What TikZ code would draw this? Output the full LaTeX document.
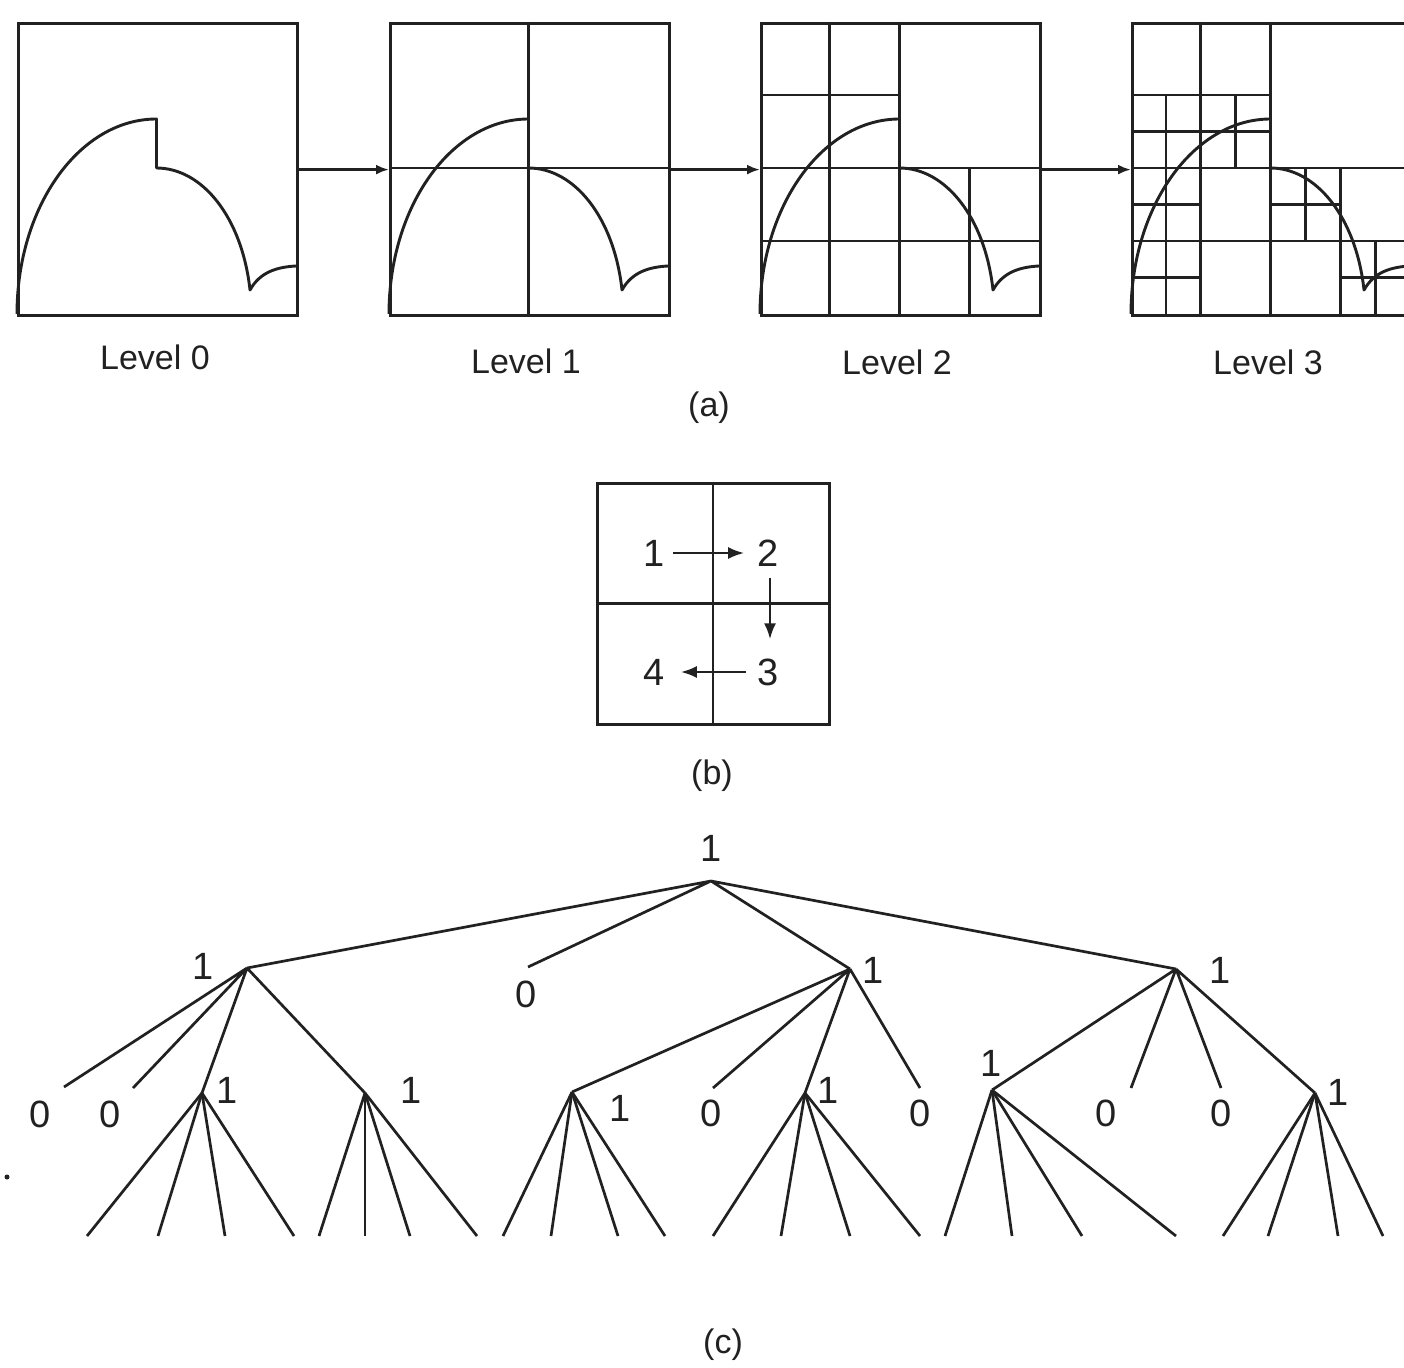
\documentclass[tikz,border=0pt]{standalone}
\usepackage{fontspec}
\setmainfont{Liberation Sans}
\usetikzlibrary{arrows.meta}

% quadrant outline of the region, in box-relative coordinates (279 x 292)
\newcommand{\regionoutline}{%
  \draw[outl] (0,292) .. controls (0,184.3) and (62.5,97) .. (139.5,97)
     -- (139.5,146) .. controls (185,146) and (225,195) .. (233,268)
     .. controls (243,250) and (260,245) .. (279,244);}

\begin{document}
\begin{tikzpicture}[x=1pt,y=-1pt,
  ink/.style={draw=black!87},
  frame/.style={ink, line width=3.2pt, minimum width=279pt, minimum height=292pt,
                inner sep=0pt, anchor=north west},
  cell/.style={ink, line width=2.8pt},
  outl/.style={ink, line width=2.9pt, line join=round},
  flow/.style={ink, line width=2.7pt, -{Latex[length=13pt,width=10pt]}},
  order/.style={ink, line width=2.6pt, -{Latex[length=16pt,width=12pt]}},
  edge/.style={ink, line width=2.7pt},
  caption/.style={inner sep=0pt, text=black!87, font=\fontsize{34}{40}\selectfont},
  digit/.style={inner sep=0pt, text=black!87, font=\fontsize{38}{44}\selectfont},
]
\useasboundingbox (0,0) rectangle (1404,1367);
\fill[white] (0,0) rectangle (1404,1367);
\clip (0,0) rectangle (1404,1367);

% ---------------- (a) quadtree subdivision levels ----------------
\node[frame] (lv0) at (17,22) {};
\node[frame] (lv1) at (389,22) {};
\node[frame] (lv2) at (760,22) {};
\node[frame] (lv3) at (1131,22) {};

\draw[flow] (lv0.east) -- (lv1.west);
\draw[flow] (lv1.east) -- (lv2.west);
\draw[flow] (lv2.east) -- (lv3.west);

% level 0
\begin{scope}[shift={(17,22)}]
  \regionoutline
\end{scope}

% level 1
\begin{scope}[shift={(389,22)}]
  \draw[cell] (139.5,0) -- (139.5,292) (0,146) -- (279,146);
  \regionoutline
\end{scope}

% level 2
\begin{scope}[shift={(760,22)}]
  \draw[cell] (139.5,0) -- (139.5,292) (0,146) -- (279,146);
  \draw[cell] (69.75,0) -- (69.75,292) (0,73) -- (139.5,73);
  \draw[cell] (0,219) -- (279,219) (209.25,146) -- (209.25,292);
  \regionoutline
\end{scope}

% level 3
\begin{scope}[shift={(1131,22)}]
  \draw[cell] (139.5,0) -- (139.5,292) (0,146) -- (279,146);
  \draw[cell] (69.75,0) -- (69.75,292) (0,73) -- (139.5,73);
  \draw[cell] (0,219) -- (279,219) (209.25,146) -- (209.25,292);
  \draw[cell] (34.9,73) -- (34.9,292) (104.6,73) -- (104.6,146);
  \draw[cell] (0,109.5) -- (139.5,109.5) (0,182.5) -- (69.75,182.5) (0,255.5) -- (69.75,255.5);
  \draw[cell] (174.4,146) -- (174.4,219) (139.5,182.5) -- (209.25,182.5);
  \draw[cell] (244.1,219) -- (244.1,292) (209.25,255.5) -- (279,255.5);
  \regionoutline
\end{scope}

\node[caption] (cap0) at (155,357) {Level 0};
\node[caption] (cap1) at (526,361) {Level 1};
\node[caption] (cap2) at (897,362) {Level 2};
\node[caption] (cap3) at (1268,362) {Level 3};
\node[caption] (capa) at (709,408) {(a)};

% ---------------- (b) visiting order of the four quadrants ----------------
\node[ink, line width=3pt, minimum width=232pt, minimum height=241pt, inner sep=0pt]
  (bq) at (713,603.5) {};
\draw[cell] (bq.north) -- (bq.south) (bq.west) -- (bq.east);
\node[digit] (q1) at (654,553) {1};
\node[digit] (q2) at (768,553) {2};
\node[digit] (q3) at (768,672) {3};
\node[digit] (q4) at (654,672) {4};
\draw[order, shorten <=8pt, shorten >=13pt] (q1.east) -- (q2.west);
\draw[order, shorten <=12pt, shorten >=19pt] ([xshift=2pt]q2.south) -- ([xshift=2pt]q3.north);
\draw[order, shorten <=11pt, shorten >=16pt] (q3.west) -- (q4.east);
\node[caption] (capb) at (712,776) {(b)};

% ---------------- (c) quadtree ----------------
\coordinate (r) at (711,881);
\coordinate (A) at (247,968);
\coordinate (z) at (528,967);
\coordinate (B) at (850,969);
\coordinate (C) at (1176,969);
\draw[edge] (r) -- (A) (r) -- (z) (r) -- (B) (r) -- (C);

\coordinate (a1) at (64,1087);
\coordinate (a2) at (133,1088);
\coordinate (A3) at (202,1093);
\coordinate (A4) at (365,1093);
\draw[edge] (A) -- (a1) (A) -- (a2) (A) -- (A3) (A) -- (A4);

\coordinate (B1) at (572,1092);
\coordinate (b2) at (713,1088);
\coordinate (B3) at (805,1093);
\coordinate (b4) at (920,1088);
\draw[edge] (B) -- (B1) (B) -- (b2) (B) -- (B3) (B) -- (b4);

\coordinate (C1) at (992,1090);
\coordinate (c2) at (1131,1088);
\coordinate (c3) at (1221,1088);
\coordinate (C4) at (1315,1093);
\draw[edge] (C) -- (C1) (C) -- (c2) (C) -- (c3) (C) -- (C4);

% bottom level branches
\foreach \p/\xs in {A3/{87,158,225,294}, A4/{319,365,410,477}, B1/{503,551,618,665},
                    B3/{713,781,850,920}, C1/{945,1012,1082,1176}, C4/{1223,1268,1338,1383}}{
  \foreach \x [count=\i] in \xs {
    \coordinate (\p-\i) at (\x,1236);
    \draw[edge] (\p) -- (\p-\i);
  }
}

% node values
\node[digit] (tr) at (711,848) {1};
\node[digit] (tA) at (203,966) {1};
\node[digit] (tz) at (526,994) {0};
\node[digit] (tB) at (873,970) {1};
\node[digit] (tC) at (1220,970) {1};
\node[digit] (ta1) at (40,1114) {0};
\node[digit] (ta2) at (110,1114) {0};
\node[digit] (tA3) at (227,1090) {1};
\node[digit] (tA4) at (411,1090) {1};
\node[digit] (tB1) at (620,1108) {1};
\node[digit] (tb2) at (711,1113) {0};
\node[digit] (tB3) at (828,1090) {1};
\node[digit] (tb4) at (920,1113) {0};
\node[digit] (tC1) at (991,1063) {1};
\node[digit] (tc2) at (1106,1113) {0};
\node[digit] (tc3) at (1221,1113) {0};
\node[digit] (tC4) at (1338,1092) {1};

\fill[black!87] (7,1177) circle (2.5pt);

\node[caption] (capc) at (723,1345) {(c)};
\end{tikzpicture}
\end{document}
